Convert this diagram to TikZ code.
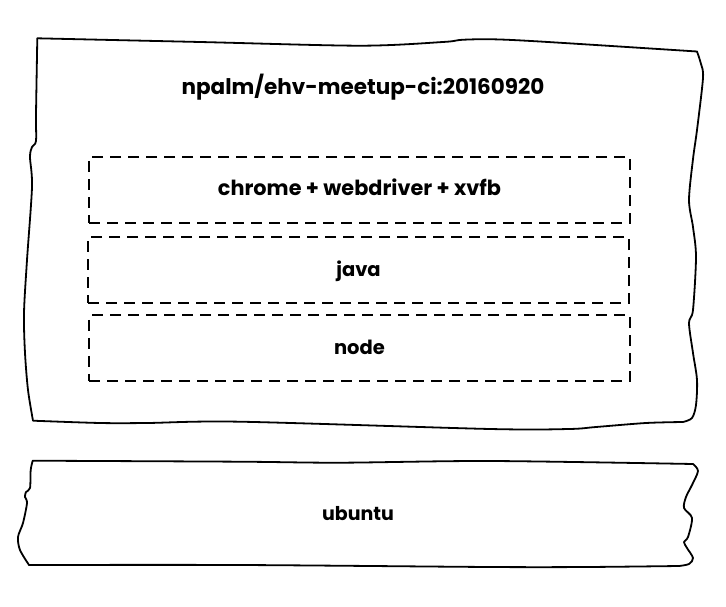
\documentclass[tikz,border=0pt]{standalone}
\usepackage{fontspec}
\setmainfont{Poppins}
\begin{document}
\begin{tikzpicture}[x=1pt,y=-1pt,
  hand/.style={line width=1.8pt, line join=round, line cap=round},
  layerbox/.style={draw, dashed, dash pattern=on 11pt off 7pt, line width=2pt,
    minimum width=541pt, minimum height=66pt, inner sep=0pt,
    text height=14pt, text depth=2pt},
  lbl/.style={font=\fontsize{19.5}{22}\selectfont\bfseries, inner sep=0pt}]
\useasboundingbox (0,0) rectangle (726,607);
% outer image box (hand drawn)
\draw[hand] plot[smooth, tension=0.5] coordinates {(37.3,38.3) (200,42) (360,45.7) (443,42) (462,39.8) (493,39.3) (543,41.7) (697,51.5)}
  -- plot[smooth, tension=0.5] coordinates {(697,51.5) (701,64) (703,78) (697,130) (693,159) (689,200) (693,227) (696,257) (693,310) (689,323) (693,353) (697,380) (696,405) (692,418) (683,422)}
  -- plot[smooth, tension=0.5] coordinates {(683,422) (646,423) (596,427) (569,429) (490,429) (240,421.7) (147,423) (100,423) (33,420.7)}
  -- plot[smooth, tension=0.5] coordinates {(33,420.7) (28,390) (25,353) (24,313) (27,260) (32,187) (30,157) (32,147) (36,141) (36,115) (37.3,38.3)}
  -- cycle;
\node[lbl, font=\fontsize{21.5}{24}\selectfont\bfseries, anchor=base] (title) at (363,95) {npalm/ehv-meetup-ci:20160920};
% layers
\node[layerbox, lbl, font=\fontsize{20.8}{24}\selectfont\bfseries] (chrome) at (359.5,190) {chrome + webdriver + xvfb};
\node[layerbox, lbl] (java) at (358.5,270) {java};
\node[layerbox, lbl, minimum height=65.5pt] (nodejs) at (359.5,348.2) {node};
% ubuntu base (hand drawn)
\draw[hand] plot[smooth, tension=0.5] coordinates {(32.7,460.7) (240,461.7) (340,462.7) (490,461) (693,464)}
  -- plot[smooth, tension=0.5] coordinates {(693,464) (698,471) (692,485) (686,497) (684,508) (692,518) (688,537) (684,542) (687,548) (693,558) (689,564) (679,566)}
  -- plot[smooth, tension=0.5] coordinates {(679,566) (586,567) (490,567) (240,565) (29,565)}
  -- plot[smooth, tension=0.5] coordinates {(29,565) (20,550) (18,537) (23,523) (27,503) (25,497) (26,492) (30,488) (30.7,470) (32.7,460.7)}
  -- cycle;
\node[lbl, font=\fontsize{19}{22}\selectfont\bfseries, anchor=base] (ubuntu) at (358,520.7) {ubuntu};
\end{tikzpicture}
\end{document}
